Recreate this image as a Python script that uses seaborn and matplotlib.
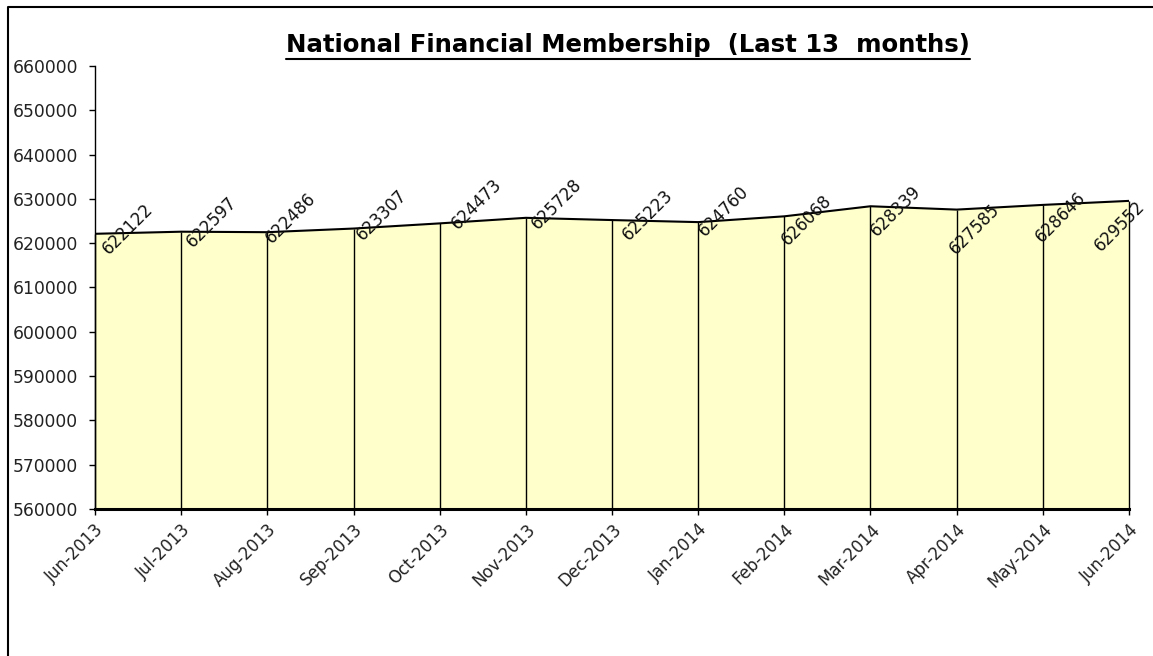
import matplotlib
matplotlib.use("Agg")
import matplotlib.pyplot as plt
import seaborn as sns
import pandas as pd
import numpy as np
from matplotlib.lines import Line2D

months = ["Jun-2013", "Jul-2013", "Aug-2013", "Sep-2013", "Oct-2013", "Nov-2013",
          "Dec-2013", "Jan-2014", "Feb-2014", "Mar-2014", "Apr-2014", "May-2014",
          "Jun-2014"]
members = [622122, 622597, 622486, 623307, 624473, 625728, 625223,
           624760, 626068, 628339, 627585, 628646, 629552]
y_ticks = list(range(560000, 660001, 10000))
title = "National Financial Membership  (Last 13  months)"

# label nudges in pixels (right, up), roughly how excel laid them out
label_nudge = [(33, 5), (31, 10), (23, 14), (28, 13), (37, 19), (31, 14), (36, 5),
               (25, 11), (22, -4), (25, -5), (18, -20), (18, -12), (-9, -25)]

sns.set_style("white")
plt.rcParams["font.family"] = ["DejaVu Sans"]

df = pd.DataFrame({"month": months, "members": members})
df["pos"] = np.arange(len(df))

W, H = 1153, 656
fig = plt.figure(figsize=(W / 100, H / 100), dpi=100)
ax = fig.add_axes([95 / W, 1 - 509 / H, (1129 - 95) / W, (509 - 66) / H])

ax.fill_between(df["pos"], y_ticks[0], df["members"], color="#FFFFCC", zorder=1, lw=0)
ax.vlines(df["pos"], y_ticks[0], df["members"], color="black", lw=1, zorder=2, clip_on=False)
sns.lineplot(data=df, x="pos", y="members", color="black", lw=1.5, ax=ax, zorder=3)

for px, val, (dx, dy) in zip(df["pos"], df["members"], label_nudge):
    ax.annotate(str(val), (px, val), xytext=(dx * 0.72, dy * 0.72),
                textcoords="offset points", ha="center", va="center",
                rotation=45, fontsize=12, color="#111111", zorder=4)

ax.set_xlim(0, len(months) - 1)
ax.set_ylim(y_ticks[0], y_ticks[-1])
ax.set_yticks(y_ticks)
ax.set_yticklabels([str(t) for t in y_ticks], fontsize=12.3, color="#222222")
ax.set_xticks(df["pos"])
ax.set_xticklabels(months, fontsize=12, color="#222222", rotation=45,
                   ha="right", va="top", rotation_mode="anchor")
ax.set_xlabel("")
ax.set_ylabel("")
ax.tick_params(axis="y", direction="out", length=4.3, width=1, pad=8, color="black", left=True)
ax.tick_params(axis="x", direction="out", length=4.3, width=1, pad=4, color="black", bottom=True)
for side in ["top", "right"]:
    ax.spines[side].set_visible(False)
ax.spines["left"].set_linewidth(1)
ax.spines["left"].set_color("black")
ax.spines["bottom"].set_linewidth(2.2)
ax.spines["bottom"].set_color("black")
ax.set_facecolor("white")

t = fig.text(628 / W, 1 - 45 / H, title, ha="center", va="center",
             fontsize=17.6, fontweight="bold", color="black")

# outer frame of the chart object (left and top only visible)
fig.add_artist(Line2D([8 / W, 8 / W, 1], [0, 1 - 7 / H, 1 - 7 / H],
                      transform=fig.transFigure, color="black", lw=1.5))

# underline the title
fig.canvas.draw()
bb = t.get_window_extent().transformed(fig.transFigure.inverted())
fig.add_artist(Line2D([bb.x0, bb.x1], [bb.y0 - 1.5 / H, bb.y0 - 1.5 / H],
                      transform=fig.transFigure, color="black", lw=1.5))

fig.savefig("out.png", dpi=100)
